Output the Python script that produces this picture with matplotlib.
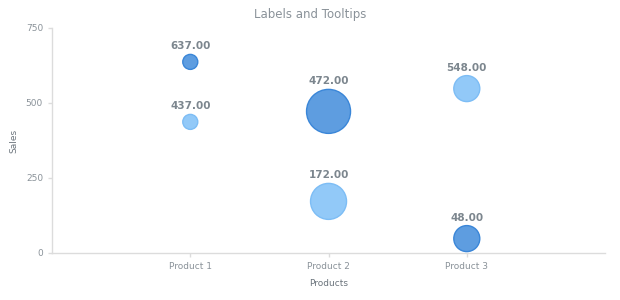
import numpy as np
import matplotlib.pyplot as plt

# chart data
products = ["Product 1", "Product 2", "Product 3"]
sales_dark = [637, 472, 48]
sales_light = [437, 172, 548]
# bubble size values (arbitrary units)
size_dark = [1, 30, 12]
size_light = [1, 22, 12]

DPI = 100
MIN_D, MAX_D = 15, 44  # bubble diameters in px


def diam_px(sizes, all_sizes):
    lo, hi = min(all_sizes), max(all_sizes)
    return [MIN_D + (s - lo) / (hi - lo) * (MAX_D - MIN_D) for s in sizes]


fig = plt.figure(figsize=(6.2, 3.0), dpi=DPI)
ax = fig.add_axes([0.0839, 0.1567, 0.892, 0.75])

x = np.arange(1, len(products) + 1)
all_sizes = size_dark + size_light
px2pt = 72.0 / DPI

series = [
    (sales_dark, size_dark, "#5e9de0", "#3a86d8"),
    (sales_light, size_light, "#92c9f8", "#7dbdf5"),
]
for vals, sizes, fc, ec in series:
    d = diam_px(sizes, all_sizes)
    s = [(di * px2pt) ** 2 for di in d]
    ax.scatter(x, vals, s=s, c=fc, edgecolors=ec, linewidths=1.0, zorder=3)
    for xi, v, di in zip(x, vals, d):
        ax.annotate(f"{v:.2f}", (xi, v), xytext=(0, (di / 2 + 3) * px2pt),
                    textcoords="offset points", ha="center", va="bottom",
                    fontsize=7.5, fontweight="bold", color="#7c868e")

ax.set_xlim(0, 4)
ax.set_ylim(0, 750)
ax.set_xticks(x)
ax.set_xticklabels(products)
ax.set_yticks([0, 250, 500, 750])

for side in ["top", "right"]:
    ax.spines[side].set_visible(False)
for side in ["left", "bottom"]:
    ax.spines[side].set_color("#dcdcdc")
    ax.spines[side].set_linewidth(1.0)

ax.tick_params(axis="both", colors="#dcdcdc", labelcolor="#8a9299",
               labelsize=6.5, length=3, width=1)

ax.set_xlabel("Products", fontsize=6.5, color="#6b747c", labelpad=6)
ax.set_ylabel("Sales", fontsize=6.5, color="#6b747c", labelpad=5)
fig.text(0.5, 0.952, "Labels and Tooltips", ha="center", va="center",
         fontsize=8.5, color="#8a9299")

fig.savefig("out.png", dpi=DPI)
